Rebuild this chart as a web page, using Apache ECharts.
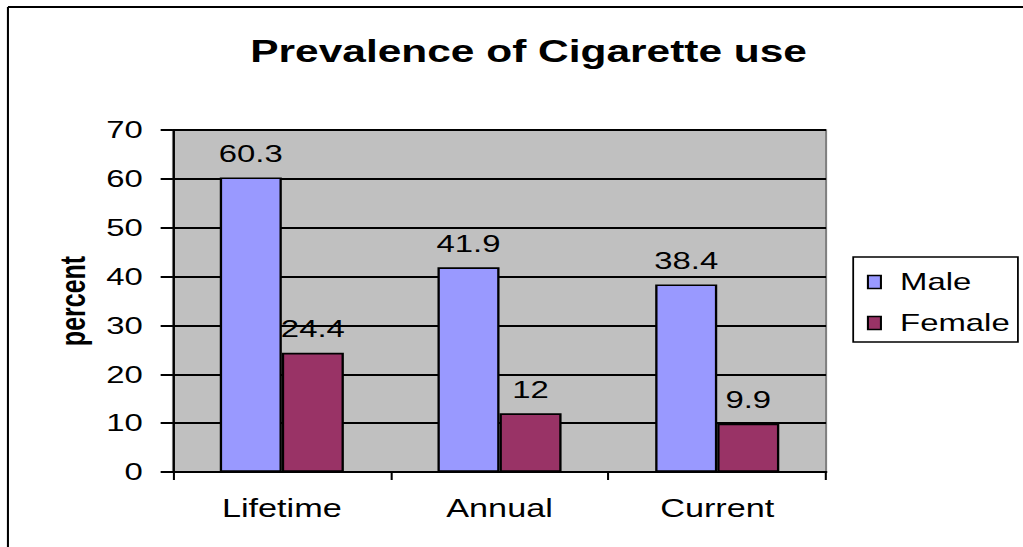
<!DOCTYPE html>
<html>
<head>
<meta charset="utf-8">
<script src="https://cdn.jsdelivr.net/npm/echarts@6/dist/echarts.min.js"></script>
<style>
  html, body { margin: 0; padding: 0; background: #fff; overflow: hidden; }
  /* the original chart is stretched horizontally, so draw narrow and widen it */
  #chart { width: 747px; height: 547px; transform: scaleX(1.3695); transform-origin: 0 0; }
</style>
</head>
<body>
<div id="chart"></div>
<script>
// chart data
const categories = ["Lifetime", "Annual", "Current"];
const maleValues = [60.3, 41.9, 38.4];
const femaleValues = [24.4, 12, 9.9];
const yTicks = [0, 10, 20, 30, 40, 50, 60, 70];

const FONT = "Liberation Sans, Arial, sans-serif";
const chart = echarts.init(document.getElementById("chart"), null, { renderer: "svg" });

const labelStyle = {
    show: true,
    position: "top",
    distance: 12,
    fontFamily: FONT,
    fontSize: 24,
    color: "#000"
};

chart.setOption({
    animation: false,
    backgroundColor: "#fff",
    title: {
        text: "Prevalence of Cigarette use",
        left: 381,
        top: 31,
        textAlign: "center",
        textStyle: { fontFamily: FONT, fontSize: 31, fontWeight: "bold", color: "#000" }
    },
    graphic: [
        // outer frame, only top and left edges are in view
        { type: "line", shape: { x1: 5.8, y1: 7, x2: 760, y2: 7 }, style: { stroke: "#000", lineWidth: 2 }, silent: true },
        { type: "line", shape: { x1: 5.8, y1: 7, x2: 5.8, y2: 560 }, style: { stroke: "#000", lineWidth: 1.5 }, silent: true },
        {
            type: "text",
            x: 53,
            y: 301,
            rotation: Math.PI / 2,
            style: {
                text: "percent",
                font: "bold 25px " + FONT,
                fill: "#000",
                textAlign: "center",
                textVerticalAlign: "middle"
            },
            silent: true
        }
    ],
    legend: {
        orient: "vertical",
        left: 623,
        top: 257,
        padding: [13, 6, 7, 10],
        itemGap: 17,
        itemWidth: 9.5,
        itemHeight: 13,
        icon: "rect",
        borderColor: "#000",
        borderWidth: 1.3,
        backgroundColor: "#fff",
        textStyle: { fontFamily: FONT, fontSize: 24, color: "#000", padding: [0, 0, 0, 9] },
        itemStyle: { borderColor: "#000", borderWidth: 1.5 },
        data: ["Male", "Female"]
    },
    grid: {
        left: 126.3,
        right: 143.8,
        top: 130,
        bottom: 75,
        show: true,
        backgroundColor: "#C0C0C0",
        borderColor: "#808080",
        borderWidth: 1.5
    },
    xAxis: {
        type: "category",
        data: categories,
        axisLine: { lineStyle: { color: "#000", width: 2 } },
        axisTick: { show: true, length: 8, lineStyle: { color: "#000", width: 1.5 } },
        axisLabel: { margin: 24, fontFamily: FONT, fontSize: 25, color: "#000" }
    },
    yAxis: {
        type: "value",
        min: yTicks[0],
        max: yTicks[yTicks.length - 1],
        interval: 10,
        axisLine: { show: true, lineStyle: { color: "#000", width: 1.5 } },
        axisTick: { show: true, length: 9, lineStyle: { color: "#000", width: 2 } },
        splitLine: { lineStyle: { color: "#000", width: 2 } },
        axisLabel: { margin: 22, fontFamily: FONT, fontSize: 24, color: "#000" }
    },
    series: [
        {
            name: "Male",
            type: "bar",
            data: maleValues,
            barGap: "0%",
            barCategoryGap: "43%",
            itemStyle: { color: "#9999FF", borderColor: "#000", borderWidth: 1.7 },
            label: labelStyle
        },
        {
            name: "Female",
            type: "bar",
            data: femaleValues,
            itemStyle: { color: "#993366", borderColor: "#000", borderWidth: 1.7 },
            label: labelStyle
        }
    ]
});

window.addEventListener("resize", () => chart.resize());
</script>
</body>
</html>
